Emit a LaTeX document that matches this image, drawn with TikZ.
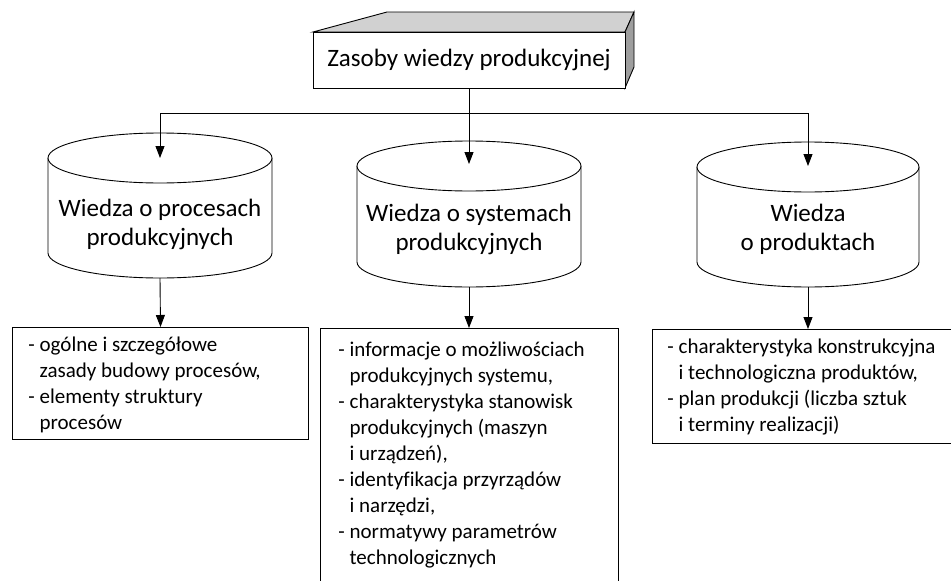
\documentclass[tikz,border=0pt]{standalone}
\usepackage{fontspec}
\setmainfont[Ligatures=NoCommon]{Carlito}
\usetikzlibrary{arrows.meta}
\newcommand\mycyl[4]{% cx, top centre y, bottom centre y, x radius
  \draw[fill=white] (#1-#4,#2) -- (#1-#4,#3) arc[start angle=180,end angle=0,x radius=#4,y radius=25] -- (#1+#4,#2);
  \draw[fill=white] (#1,#2) ellipse[x radius=#4,y radius=25];
}
\begin{document}
\begin{tikzpicture}[x=1pt,y=-1pt,line width=0.9pt,
  conn/.style={-{Triangle[length=12pt,width=9pt]}},
  infobox/.style={draw,line width=1pt,anchor=north west,inner sep=0pt},
  infotext/.style={anchor=north west,inner sep=0pt,align=left,font=\fontsize{21}{26}\selectfont},
  cyltext/.style={align=center,inner sep=0pt,font=\fontsize{25}{29}\selectfont}]
\path[use as bounding box] (0,0) rectangle (951,581);
\clip (0,0) rectangle (951,581);
% 3D title box
\filldraw[fill=black!18] (313,32) -- (387,12) -- (634,12) -- (625,32) -- cycle;
\filldraw[fill=black!38] (625,32) -- (634,12) -- (634,67) -- (625,88) -- cycle;
\node[draw,fill=white,minimum width=312pt,minimum height=56pt,inner sep=0pt,
  font=\fontsize{25}{29}\selectfont] (title) at (469,60) {Zasoby wiedzy produkcyjnej};
% cylinders
\mycyl{160}{158}{253}{112}
\mycyl{469}{166}{262}{112}
\mycyl{808}{167}{262}{111}
\node[cyltext] (cyl1) at (160,224) {Wiedza o procesach\\produkcyjnych};
\node[cyltext] (cyl2) at (469,229) {Wiedza o systemach\\produkcyjnych};
\node[cyltext] (cyl3) at (808,229) {Wiedza\\o produktach};
\coordinate (c1top) at (160,158);
\coordinate (c2top) at (469,164);
\coordinate (c3top) at (808,166);
\coordinate (c1bot) at (160,278);
\coordinate (c2bot) at (469,287);
\coordinate (c3bot) at (808,287);
% boxes
\node[infobox,minimum width=296pt,minimum height=112pt] (box1) at (12,327) {};
\node[infobox,minimum width=298pt,minimum height=300pt] (box2) at (320,328) {};
\node[infobox,minimum width=310pt,minimum height=114pt] (box3) at (652,329) {};
\node[infotext] (t1) at (28,336) {- ogólne i szczegółowe\\\hphantom{- }zasady budowy procesów,\\- elementy struktury\\\hphantom{- }procesów};
\node[infotext] (t2) at (338,341) {- informacje o możliwościach\\\hphantom{- }produkcyjnych systemu,\\- charakterystyka stanowisk\\\hphantom{- }produkcyjnych (maszyn\\\hphantom{- }i urządzeń),\\- identyfikacja przyrządów\\\hphantom{- }i narzędzi,\\- normatywy parametrów\\\hphantom{- }technologicznych};
\node[infotext] (t3) at (667,338) {- charakterystyka konstrukcyjna\\\hphantom{- }i technologiczna produktów,\\- plan produkcji (liczba sztuk\\\hphantom{- }i terminy realizacji)};
% connectors
\coordinate (j0) at (469,113);
\coordinate (j1) at (160,113);
\coordinate (j3) at (808,113);
\draw (title.south) -- (j0);
\draw (j1) -- (j3);
\draw[conn] (j1) -- (c1top);
\draw[conn] (j0) -- (c2top);
\draw[conn] (j3) -- (c3top);
\draw[conn] (c1bot) -- (box1.north);
\draw[conn] (c2bot) -- (c2bot |- box2.north);
\draw[conn] (c3bot) -- (c3bot |- box3.north);
\end{tikzpicture}
\end{document}
